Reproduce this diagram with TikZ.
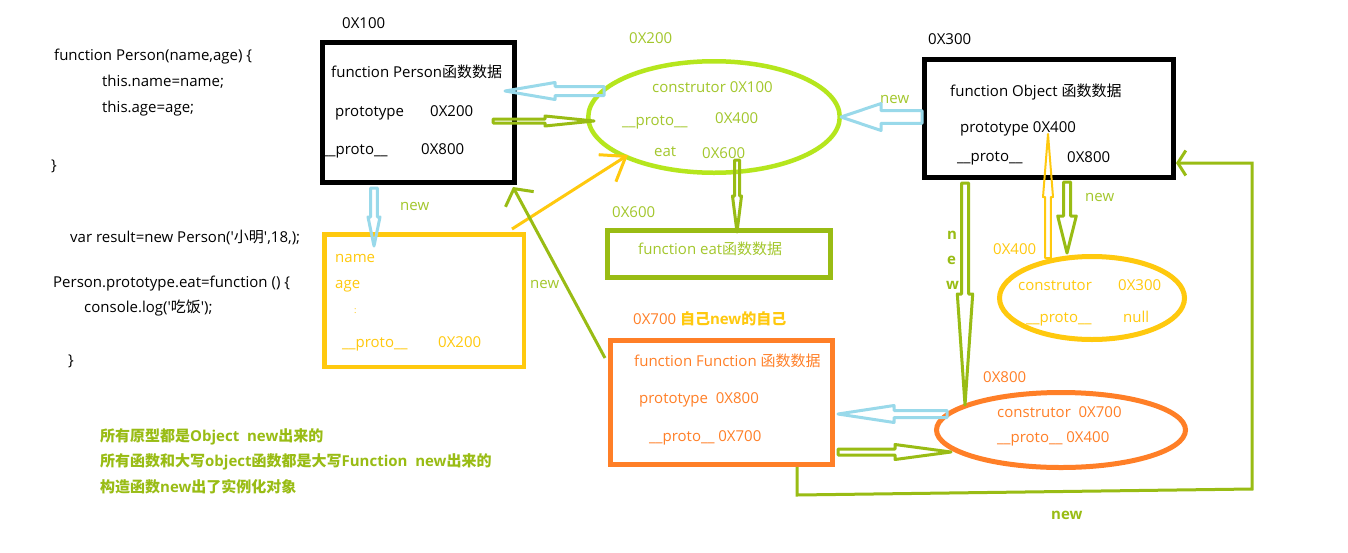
\documentclass[tikz,border=0pt]{standalone}
\usepackage{fontspec}
\setmainfont{Open Sans}[Ligatures=TeXOff]
\newfontfamily\zhfont{Noto Sans CJK SC}
\usepackage{tikz}
\usetikzlibrary{calc,shapes.geometric,arrows.meta}
\newcommand{\zh}[1]{{\zhfont #1}}
\newcommand{\blockarrow}[6][]{%
  \coordinate (ba) at ($(#3)!#6pt!(#2)$);
  \draw[#1] ($(#2)!#4pt!90:(#3)$) -- ($(ba)!#4pt!90:(#3)$) -- ($(ba)!#5pt!90:(#3)$) -- (#3)
    -- ($(ba)!#5pt!-90:(#3)$) -- ($(ba)!#4pt!-90:(#3)$) -- ($(#2)!#4pt!-90:(#3)$) -- cycle;}
\definecolor{sky}{HTML}{99D9EA}
\definecolor{lemon}{HTML}{B5E61D}
\definecolor{limetext}{HTML}{A3C72C}
\definecolor{grass}{HTML}{99BC14}
\definecolor{amber}{HTML}{FFC90E}
\definecolor{tangerine}{HTML}{FF7F27}
\tikzset{
  txt/.style={anchor=west,inner sep=0pt,text height=11pt,text depth=3pt},
  note/.style={txt,text=grass,font=\fontsize{15}{18}\selectfont\bfseries},
  box/.style={draw,rectangle,inner sep=0pt,line width=5pt},
  oval/.style={draw,ellipse,inner sep=0pt,line width=5pt},
  hollow/.style={line width=3pt,line join=round},
}
\begin{document}
\begin{tikzpicture}[x=1pt,y=-1pt,font=\fontsize{15}{18}\selectfont]
  \path[fill=white,use as bounding box] (0,0) rectangle (1348,552);

  % code
  \node[txt] (code1) at (54,56) {function Person(name,age) \{};
  \node[txt] (code2) at (102,82) {this.name=name;};
  \node[txt] (code3) at (102,108) {this.age=age;};
  \node[txt] (code4) at (51,166) {\}};
  \node[txt] (code5) at (70,238) {var result=new Person('\zh{小明}',18,);};
  \node[txt] (code6) at (53,283) {Person.prototype.eat=function () \{};
  \node[txt] (code7) at (84,308) {console.log('\zh{吃饭}');};
  \node[txt] (code8) at (68,361) {\}};

  % Person
  \node[box,minimum width=192,minimum height=140] (person) at (418.5,112.5) {};
  \node[txt] (personaddr) at (342,24) {0X100};
  \node[txt] (personname) at (331,73) {function Person\zh{函数数据}};
  \node[txt] (personprot) at (335,112) {prototype};
  \node[txt] (personprotv) at (430,112) {0X200};
  \node[txt] (personproto) at (322,150) {\_\_proto\_\_};
  \node[txt] (personprotov) at (421,150) {0X800};

  % Person.prototype
  \node[oval,draw=lemon,line width=4.5pt,minimum width=251.5,minimum height=111.5] (pproto) at (714,117) {};
  \node[txt,text=limetext] (pprotoaddr) at (629,39) {0X200};
  \node[txt,text=limetext] (pprotocons) at (652,88) {construtor 0X100};
  \node[txt,text=limetext] (pprotoproto) at (622,121) {\_\_proto\_\_};
  \node[txt,text=limetext] (pprotoprotov) at (715,119) {0X400};
  \node[txt,text=limetext] (pprotoeat) at (654,152) {eat};
  \node[txt,text=limetext] (pprotoeatv) at (702,154) {0X600};

  % eat
  \node[box,draw=grass,minimum width=223,minimum height=47] (eat) at (719,254) {};
  \node[txt,text=limetext] (eataddr) at (612,213) {0X600};
  \node[txt,text=limetext] (eatname) at (638,250) {function eat\zh{函数数据}};

  % result
  \node[box,draw=amber,line width=4.5pt,minimum width=199.5,minimum height=132.5] (result) at (424,300.5) {};
  \node[txt,text=amber] (resname) at (335,258) {name};
  \node[txt,text=amber] (resage) at (335,284) {age};
  \node[txt,text=amber,font=\fontsize{9}{10}\selectfont] (resdots) at (354,309) {:};
  \node[txt,text=amber] (resproto) at (342,343) {\_\_proto\_\_};
  \node[txt,text=amber] (resprotov) at (438,343) {0X200};

  % Object
  \node[box,minimum width=249,minimum height=118] (object) at (1049,118.5) {};
  \node[txt] (objaddr) at (928,40) {0X300};
  \node[txt] (objname) at (950,92) {function Object \zh{函数数据}};
  \node[txt] (objprot) at (960,128) {prototype 0X400};
  \node[txt] (objproto) at (957,157) {\_\_proto\_\_};
  \node[txt] (objprotov) at (1067,158) {0X800};

  % Object.prototype
  \node[oval,draw=amber,minimum width=185,minimum height=83] (oproto) at (1092,298) {};
  \node[txt,text=amber] (oprotoaddr) at (993,250) {0X400};
  \node[txt,text=amber] (oprotocons) at (1018,286) {construtor};
  \node[txt,text=amber] (oprotoconsv) at (1118,286) {0X300};
  \node[txt,text=amber] (oprotoproto) at (1026,318) {\_\_proto\_\_};
  \node[txt,text=amber] (oprotoprotov) at (1123,318) {null};

  % Function
  \node[box,draw=tangerine,minimum width=222,minimum height=124] (func) at (721.5,402.5) {};
  \node[txt,text=tangerine] (funcaddr) at (633,320) {0X700 \textcolor{amber}{\bfseries\zh{自己}new\zh{的自己}}};
  \node[txt,text=tangerine] (funcname) at (634,362) {function Function \zh{函数数据}};
  \node[txt,text=tangerine] (funcprot) at (639,399) {prototype\ \ 0X800};
  \node[txt,text=tangerine] (funcproto) at (649,437) {\_\_proto\_\_ 0X700};

  % Function.prototype
  \node[oval,draw=tangerine,minimum width=249,minimum height=75] (fproto) at (1061,430) {};
  \node[txt,text=tangerine] (fprotoaddr) at (983,378) {0X800};
  \node[txt,text=tangerine] (fprotocons) at (997,413) {construtor\ \ 0X700};
  \node[txt,text=tangerine] (fprotoproto) at (997,438) {\_\_proto\_\_ 0X400};

  % new labels
  \node[txt,text=limetext] (new1) at (400,206) {new};
  \node[txt,text=limetext] (new2) at (530,284) {new};
  \node[txt,text=limetext] (new3) at (880,99) {new};
  \node[txt,text=limetext] (new4) at (1085,197) {new};
  \node[note] (newn) at (947,235) {n};
  \node[note] (newe) at (947,260) {e};
  \node[note] (neww) at (946,285) {w};
  \node[note] (new5) at (1051,515) {new};

  % notes
  \node[note] (note1) at (100,437) {\zh{所有原型都是}Object\ \ new\zh{出来的}};
  \node[note] (note2) at (100,462) {\zh{所有函数和大写}object\zh{函数都是大写}Function\ \ new\zh{出来的}};
  \node[note] (note3) at (100,488) {\zh{构造函数}new\zh{出了实例化对象}};

  % block arrows
  \coordinate (a1s) at (604,91);   \coordinate (a1t) at (505,91);
  \coordinate (a2s) at (493,121);  \coordinate (a2t) at (594,121);
  \coordinate (a3s) at (922,117);  \coordinate (a3t) at (841,117);
  \coordinate (a4s) at (737,160);  \coordinate (a4t) at (737,232);
  \coordinate (a5s) at (374,188);  \coordinate (a5t) at (374,246);
  \coordinate (a6s) at (1048,258); \coordinate (a6t) at (1048,134);
  \coordinate (a7s) at (1067,182); \coordinate (a7t) at (1067,253);
  \coordinate (a8s) at (965,183);  \coordinate (a8t) at (965,405);
  \coordinate (a9s) at (947,414);  \coordinate (a9t) at (838,414);
  \coordinate (a10s) at (838,452); \coordinate (a10t) at (951,452);
  \blockarrow[sky,hollow]{a1s}{a1t}{4.5}{8.5}{50}
  \blockarrow[grass,hollow]{a2s}{a2t}{2}{5}{49}
  \blockarrow[sky,hollow]{a3s}{a3t}{6.3}{13.5}{40}
  \blockarrow[grass,hollow]{a4s}{a4t}{2.5}{4.5}{36}
  \blockarrow[sky,hollow]{a5s}{a5t}{3.3}{6}{29}
  \blockarrow[amber,hollow,line width=2pt]{a6s}{a6t}{2.8}{5}{63}
  \blockarrow[grass,hollow]{a7s}{a7t}{3.5}{9.3}{37}
  \blockarrow[grass,hollow]{a8s}{a8t}{3.5}{7.7}{111}
  \blockarrow[sky,hollow]{a9s}{a9t}{3.5}{8.5}{56}
  \blockarrow[grass,hollow]{a10s}{a10t}{3}{7.5}{56}

  % line arrows
  \coordinate (rescorner) at (512,229);
  \coordinate (pprotoside) at (628,155);
  \coordinate (functop) at (605,358);
  \coordinate (personcorner) at (513,187);
  \coordinate (funcfoot) at (797,467);
  \coordinate (objside) at (1176,163);
  \draw[amber,line width=3pt,-{Straight Barb[length=22pt,width=32pt]}] (rescorner) -- (pprotoside);
  \draw[grass,line width=3pt,-{Straight Barb[length=12pt,width=32pt]}] (functop) -- (personcorner);
  \draw[grass,line width=3pt,-{Straight Barb[length=8pt,width=25pt]}] (funcfoot) -- (797,495) -- (1252,489) -- (1252,163) -- (objside);
\end{tikzpicture}
\end{document}
